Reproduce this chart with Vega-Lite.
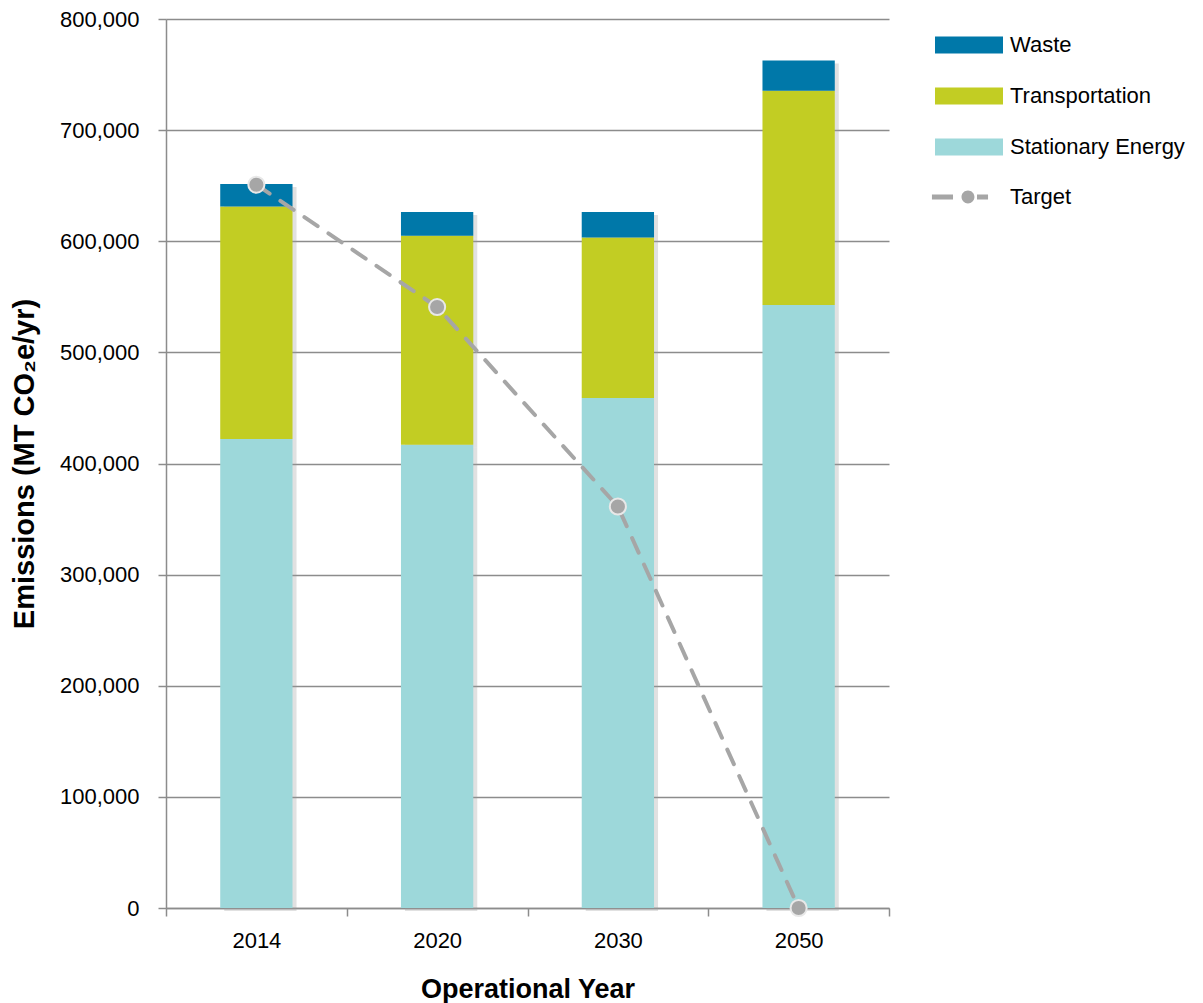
{
  "$schema": "https://vega.github.io/schema/vega-lite/v6.json",
  "width": 723,
  "height": 889,
  "autosize": {"type": "none"},
  "padding": {"left": 166, "top": 19, "right": 314, "bottom": 95},
  "background": "white",
  "config": {
    "font": "Liberation Sans",
    "view": {"stroke": null},
    "axis": {
      "domainColor": "#8c8c8c", "domainWidth": 1.5,
      "tickColor": "#8c8c8c", "tickWidth": 1.5, "tickSize": 8,
      "gridColor": "#8c8c8c", "gridWidth": 1.5,
      "labelFont": "Liberation Sans", "labelFontSize": 22, "labelColor": "#000000",
      "titleFont": "Liberation Sans", "titleFontSize": 27, "titleFontWeight": "bold", "titleColor": "#000000"
    },
    "legend": {
      "labelFont": "Liberation Sans", "labelFontSize": 22, "labelColor": "#000000", "labelLimit": 400
    }
  },
  "datasets": {
    "bars": [
      {"year": "2014", "category": "Stationary Energy", "ord": 1, "value": 422000},
      {"year": "2014", "category": "Transportation", "ord": 2, "value": 209300},
      {"year": "2014", "category": "Waste", "ord": 3, "value": 20200},
      {"year": "2020", "category": "Stationary Energy", "ord": 1, "value": 416800},
      {"year": "2020", "category": "Transportation", "ord": 2, "value": 188200},
      {"year": "2020", "category": "Waste", "ord": 3, "value": 21300},
      {"year": "2030", "category": "Stationary Energy", "ord": 1, "value": 458900},
      {"year": "2030", "category": "Transportation", "ord": 2, "value": 144500},
      {"year": "2030", "category": "Waste", "ord": 3, "value": 22900},
      {"year": "2050", "category": "Stationary Energy", "ord": 1, "value": 542600},
      {"year": "2050", "category": "Transportation", "ord": 2, "value": 192900},
      {"year": "2050", "category": "Waste", "ord": 3, "value": 27200}
    ],
    "target": [
      {"year": "2014", "series": "Target", "target": 650900},
      {"year": "2020", "series": "Target", "target": 540800},
      {"year": "2030", "series": "Target", "target": 361300},
      {"year": "2050", "series": "Target", "target": 0}
    ]
  },
  "layer": [
    {
      "data": {"name": "bars"},
      "mark": {"type": "bar", "color": "#9a9a9a", "opacity": 0.3, "xOffset": 4, "yOffset": 3, "width": {"band": 0.4}},
      "encoding": {
        "x": {
          "field": "year", "type": "nominal",
          "scale": {"paddingInner": 0, "paddingOuter": 0},
          "axis": {
            "title": "Operational Year", "labelAngle": 0, "labelPadding": 14,
            "titlePadding": 25, "tickBand": "extent", "grid": false
          }
        },
        "y": {
          "field": "value", "type": "quantitative", "stack": "zero",
          "scale": {"domain": [0, 800000], "nice": false},
          "axis": {
            "title": "Emissions (MT CO₂e/yr)", "titleFontSize": 29,
            "values": [0, 100000, 200000, 300000, 400000, 500000, 600000, 700000, 800000],
            "format": ",.0f", "labelPadding": 19, "titlePadding": 20, "grid": true
          }
        },
        "detail": {"field": "category"},
        "order": {"field": "ord"}
      }
    },
    {
      "data": {"name": "bars"},
      "mark": {"type": "bar", "width": {"band": 0.4}},
      "encoding": {
        "x": {"field": "year", "type": "nominal"},
        "y": {"field": "value", "type": "quantitative", "stack": "zero"},
        "order": {"field": "ord"},
        "color": {
          "field": "category", "type": "nominal",
          "scale": {
            "domain": ["Waste", "Transportation", "Stationary Energy"],
            "range": ["#0078a9", "#c2cd23", "#9dd8da"]
          },
          "legend": {
            "title": null, "orient": "none", "legendX": 769, "legendY": -8,
            "symbolType": "M-1,-0.25H1V0.25H-1Z", "symbolSize": 4624,
            "symbolStrokeWidth": 0, "symbolOpacity": 1,
            "labelOffset": 7, "rowPadding": 6
          }
        }
      }
    },
    {
      "data": {"name": "target"},
      "mark": {"type": "line", "color": "#a6a6a6", "strokeWidth": 4, "strokeDash": [16, 13], "strokeCap": "round"},
      "encoding": {
        "x": {"field": "year", "type": "nominal"},
        "y": {"field": "target", "type": "quantitative"}
      }
    },
    {
      "data": {"name": "target"},
      "mark": {"type": "point", "filled": true, "size": 260, "opacity": 1, "stroke": "#e8e8e8", "strokeWidth": 2},
      "encoding": {
        "x": {"field": "year", "type": "nominal"},
        "y": {"field": "target", "type": "quantitative"},
        "fill": {
          "field": "series", "type": "nominal",
          "scale": {"domain": ["Target"], "range": ["#a6a6a6"]},
          "legend": {
            "title": null, "orient": "none", "legendX": 769, "legendY": 144,
            "symbolType": "M-1.09,-0.074H-0.47V0.074H-1.09Z M-0.22,0 A0.19,0.19 0 1 1 0.16,0 A0.19,0.19 0 1 1 -0.22,0 Z M0.235,-0.074H0.56V0.074H0.235Z",
            "symbolSize": 4624, "symbolStrokeWidth": 0, "symbolOpacity": 1,
            "symbolFillColor": "#a6a6a6",
            "labelOffset": 7
          }
        }
      }
    }
  ]
}
